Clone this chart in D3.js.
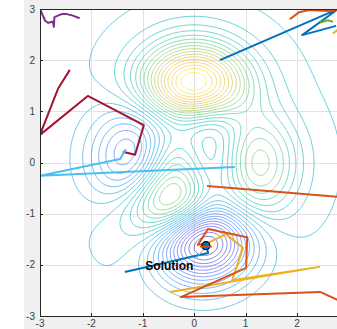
<!DOCTYPE html>
<html>
<head>
<meta charset="utf-8">
<script src="https://cdn.jsdelivr.net/npm/d3@7"></script>
<style>
  html, body { margin: 0; padding: 0; background: #fff; }
  svg { display: block; }
</style>
</head>
<body>
<svg id="chart"></svg>
<script>
// Axis ticks
const xTicks = [-3, -2, -1, 0, 1, 2, 3];
const yTicks = [-3, -2, -1, 0, 1, 2, 3];

// Contour levels of the surface (MATLAB peaks), 30 levels between min and max
const zMin = -6.5511;
const zMax = 8.1062;
const nLevels = 30;

// Particle paths, [x, y]
const pathBlueTop = [[0.50, 2.00], [2.80, 3.00], [2.10, 2.49], [2.76, 2.67]];
const pathBlueBottom = [[-1.35, -2.14], [0.27, -1.77], [0.23, -1.59]];
const pathOrangeTop = [[1.86, 2.80], [2.03, 2.93], [2.23, 2.98], [2.60, 2.96], [2.80, 2.99]];
const pathOrangeMid = [[0.25, -0.46], [3.00, -0.69]];
const pathOrangeBottom = [[3.00, -2.78], [2.45, -2.53], [-0.26, -2.63], [1.01, -2.06],
  [1.03, -1.46], [0.27, -1.30], [0.07, -1.61], [0.23, -1.59]];
const pathYellowBottom = [[-0.47, -2.53], [2.43, -2.04], [0.74, -2.30], [0.95, -1.67],
  [0.62, -1.40], [0.23, -1.59]];
const pathYellowTop = [[2.70, 2.52], [2.80, 2.60], [2.90, 2.65]];
const pathPurple = [[-3.00, 3.00], [-2.90, 2.77], [-2.84, 2.73], [-2.75, 2.75], [-2.73, 2.65],
  [-2.72, 2.84], [-2.58, 2.90], [-2.48, 2.90], [-2.36, 2.87], [-2.23, 2.82]];
const pathGreen = [[2.45, 2.73], [2.60, 2.78], [2.70, 2.75]];
const pathLightBlue = [[0.79, -0.09], [-3.00, -0.26], [-1.44, 0.07], [-1.33, 0.26]];
const pathCrimson = [[-2.42, 1.81], [-2.65, 1.44], [-3.00, 0.54], [-2.07, 1.30],
  [-0.98, 0.73], [-1.15, 0.15], [-1.39, 0.21]];

const solution = [0.228, -1.626];

const paths = [
  { pts: pathBlueTop, color: '#0072BD' },
  { pts: pathOrangeTop, color: '#D95319' },
  { pts: pathGreen, color: '#77AC30' },
  { pts: pathYellowTop, color: '#EDB120' },
  { pts: pathPurple, color: '#7E2F8E' },
  { pts: pathCrimson, color: '#A2142F' },
  { pts: pathLightBlue, color: '#4DBEEE' },
  { pts: pathOrangeMid, color: '#D95319' },
  { pts: pathYellowBottom, color: '#EDB120' },
  { pts: pathOrangeBottom, color: '#D95319' },
  { pts: pathBlueBottom, color: '#0072BD' }
];

// parula colormap stops
const parula = ['#3e26a8', '#4438d5', '#474cee', '#4760fc', '#3b78fd', '#2d8cf6', '#209ce7',
  '#15acd8', '#05b9c3', '#25c2a8', '#49c98a', '#81cb67', '#b6c447', '#e0ba38', '#fdbd3c',
  '#f6d92b', '#f9fb15'];
const cmap = d3.interpolateRgbBasis(parula);

function peaks(x, y) {
  const a = 1 - x, b = y + 1, c = x + 1;
  return 3 * a * a * Math.exp(-x * x - b * b)
    - 10 * (x / 5 - x * x * x - Math.pow(y, 5)) * Math.exp(-x * x - y * y)
    - 1 / 3 * Math.exp(-c * c - y * y);
}

const width = 337, height = 329;
const svg = d3.select('#chart').attr('width', width).attr('height', height);

// figure background
svg.append('rect').attr('x', 24).attr('y', 0).attr('width', width - 24).attr('height', height)
  .attr('fill', '#f0f0f0');

const xScale = d3.scaleLinear([-3, 3], [40, 348.4]);
const yScale = d3.scaleLinear([-3, 3], [316, 9]);

svg.append('rect')
  .attr('x', xScale(-3)).attr('y', yScale(3))
  .attr('width', xScale(3) - xScale(-3)).attr('height', yScale(-3) - yScale(3))
  .attr('fill', '#fff');

svg.append('clipPath').attr('id', 'clip')
  .append('rect')
  .attr('x', xScale(-3)).attr('y', yScale(3))
  .attr('width', xScale(3) - xScale(-3)).attr('height', yScale(-3) - yScale(3));

// grid
const grid = svg.append('g').attr('stroke', '#e3e3e3').attr('stroke-width', 1);
grid.selectAll('.gx').data(xTicks).join('line')
  .attr('x1', d => Math.round(xScale(d)) + 0.5).attr('x2', d => Math.round(xScale(d)) + 0.5)
  .attr('y1', yScale(3)).attr('y2', yScale(-3));
grid.selectAll('.gy').data(yTicks).join('line')
  .attr('y1', d => Math.round(yScale(d)) + 0.5).attr('y2', d => Math.round(yScale(d)) + 0.5)
  .attr('x1', xScale(-3)).attr('x2', xScale(3));

// contour grid (extends past the axes, clipped later)
const g0 = -4, step = 0.025, n = 321;
const values = new Array(n * n);
for (let j = 0; j < n; j++) {
  for (let i = 0; i < n; i++) {
    values[i + j * n] = peaks(g0 + i * step, g0 + j * step);
  }
}
const levelStep = (zMax - zMin) / (nLevels + 1);
const levels = d3.range(1, nLevels + 1).map(k => zMin + k * levelStep);
const contours = d3.contours().size([n, n]).thresholds(levels)(values);

const proj = d3.geoTransform({
  point: function(x, y) {
    this.stream.point(xScale(g0 + (x - 0.5) * step), yScale(g0 + (y - 0.5) * step));
  }
});
const geo = d3.geoPath(proj);

const plot = svg.append('g').attr('clip-path', 'url(#clip)');
plot.append('g').selectAll('path').data(contours).join('path')
  .attr('d', geo)
  .attr('fill', 'none')
  .attr('stroke', d => cmap((d.value - zMin) / (zMax - zMin)))
  .attr('stroke-opacity', 0.8)
  .attr('stroke-width', 0.8);

// particle paths
const line = d3.line().x(d => xScale(d[0])).y(d => yScale(d[1]));
plot.append('g').selectAll('path').data(paths).join('path')
  .attr('d', d => line(d.pts))
  .attr('fill', 'none')
  .attr('stroke', d => d.color)
  .attr('stroke-width', 2)
  .attr('stroke-linejoin', 'round');

// solution marker and label
plot.append('line')
  .attr('x1', xScale(solution[0]) - 9).attr('y1', yScale(solution[1]) + 12)
  .attr('x2', xScale(solution[0]) - 1).attr('y2', yScale(solution[1]) + 2)
  .attr('stroke', '#999').attr('stroke-width', 1);
plot.append('circle')
  .attr('cx', xScale(solution[0])).attr('cy', yScale(solution[1]))
  .attr('r', 4)
  .attr('fill', '#0072BD').attr('stroke', '#000').attr('stroke-width', 1.2);
plot.append('line')
  .attr('x1', xScale(solution[0]) - 6).attr('y1', yScale(solution[1]) + 1)
  .attr('x2', xScale(solution[0]) + 6).attr('y2', yScale(solution[1]) + 1)
  .attr('stroke', '#D95319').attr('stroke-width', 1.5);
plot.append('text')
  .attr('x', xScale(-0.95)).attr('y', yScale(-2.1))
  .attr('font-family', 'Liberation Sans, Arial, sans-serif')
  .attr('font-size', 12).attr('font-weight', 'bold')
  .attr('fill', '#000')
  .text('Solution');

// axes box
const ax = svg.append('g').attr('stroke', '#262626').attr('stroke-width', 1).attr('fill', 'none');
ax.append('rect')
  .attr('x', xScale(-3) + 0.5).attr('y', yScale(3) + 0.5)
  .attr('width', xScale(3) - xScale(-3)).attr('height', yScale(-3) - yScale(3));
ax.selectAll('.tx').data(xTicks).join('line')
  .attr('x1', d => Math.round(xScale(d)) + 0.5).attr('x2', d => Math.round(xScale(d)) + 0.5)
  .attr('y1', yScale(-3)).attr('y2', yScale(-3) - 3);
ax.selectAll('.ty').data(yTicks).join('line')
  .attr('y1', d => Math.round(yScale(d)) + 0.5).attr('y2', d => Math.round(yScale(d)) + 0.5)
  .attr('x1', xScale(-3)).attr('x2', xScale(-3) + 3);

// tick labels (the x = 3 label falls outside the window)
const lab = svg.append('g')
  .attr('font-family', 'Liberation Sans, Arial, sans-serif')
  .attr('font-size', 10).attr('fill', '#404040');
lab.selectAll('.lx').data(xTicks.filter(d => xScale(d) + 4 < width)).join('text')
  .attr('x', d => xScale(d)).attr('y', 327)
  .attr('text-anchor', 'middle')
  .text(d => d);
lab.selectAll('.ly').data(yTicks).join('text')
  .attr('x', 35).attr('y', d => yScale(d) + 3.5)
  .attr('text-anchor', 'end')
  .text(d => d);
</script>
</body>
</html>
